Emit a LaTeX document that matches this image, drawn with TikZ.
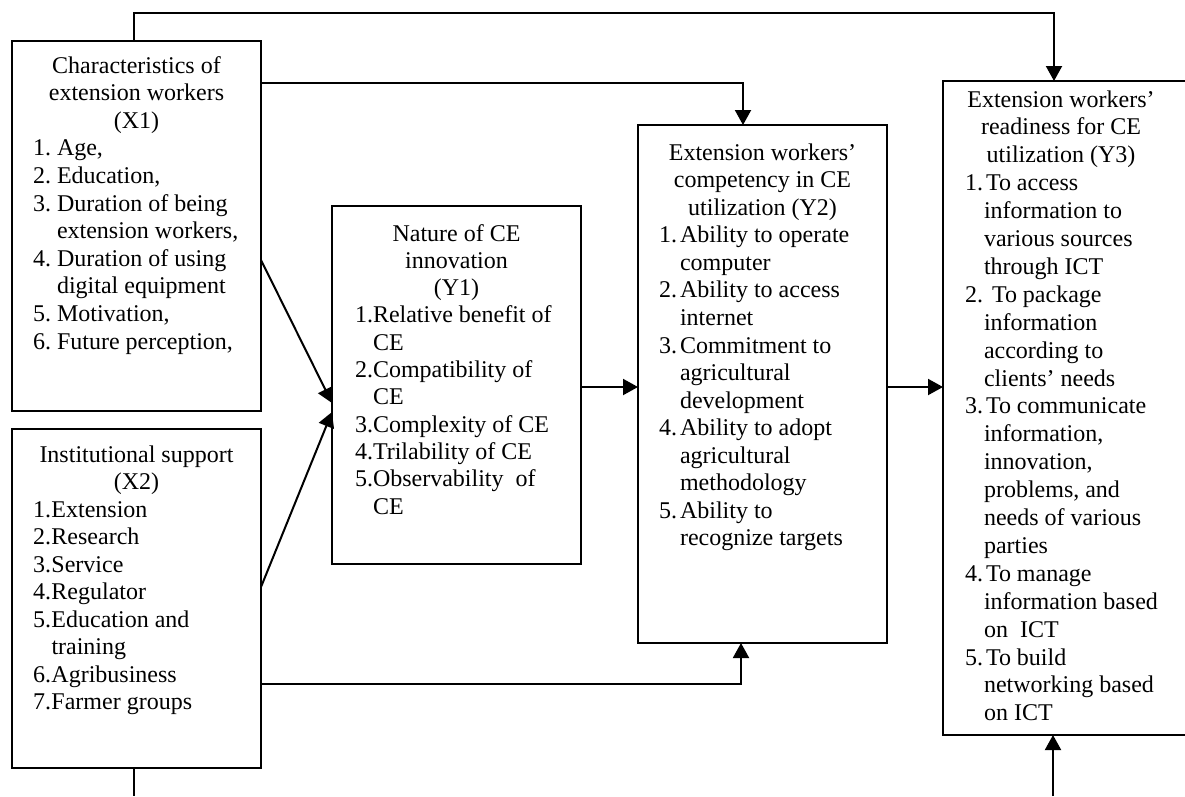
\documentclass[tikz,border=0pt]{standalone}
\usepackage{fontspec}
\setmainfont{Liberation Serif}
\usetikzlibrary{arrows.meta,calc}
\newcommand{\ct}[2]{\makebox[#1]{#2}}
\newcommand{\li}[3]{\makebox[#1][l]{#2}#3}
\newcommand{\co}[2]{\hspace*{#1}#2}
\newcommand{\fs}[1]{\fontsize{24}{#1}\selectfont}
\newcommand{\st}{\rule{0pt}{20pt}}
\begin{document}
\begin{tikzpicture}[x=1pt,y=-1pt,
  box/.style={draw,line width=2.2pt,rectangle,inner sep=0pt,outer sep=0pt},
  txt/.style={anchor=north west,inner sep=0pt,outer sep=0pt,align=left},
  con/.style={line width=2pt},
  arr/.style={con,-{Triangle[length=15pt,width=16pt]}}]
\useasboundingbox (0,0) rectangle (1185,796);
\clip (0,0) rectangle (1185,796);

% boxes
\node[box,minimum width=249pt,minimum height=370pt] (x1) at (136.5,226) {};
\node[box,minimum width=249pt,minimum height=339pt] (x2) at (136.5,598.5) {};
\node[box,minimum width=249pt,minimum height=358pt] (y1) at (456.5,385) {};
\node[box,minimum width=249pt,minimum height=518pt] (y2) at (762.5,384) {};
\node[box,minimum width=257pt,minimum height=654pt] (y3) at (1071.5,408) {};

% texts
\node[txt,font=\fs{27.6}] (x1t) at ($(x1.north west)+(21,12)$) {%
\ct{207pt}{\st Characteristics of}\\
\ct{207pt}{extension workers}\\
\ct{207pt}{(X1)}\\
\li{24pt}{1.}{Age,}\\
\li{24pt}{2.}{Education,}\\
\li{24pt}{3.}{Duration of being}\\
\co{24pt}{extension workers,}\\
\li{24pt}{4.}{Duration of using}\\
\co{24pt}{digital equipment}\\
\li{24pt}{5.}{Motivation,}\\
\li{24pt}{6.}{Future perception,}};

\node[txt,font=\fs{27.5}] (x2t) at ($(x2.north west)+(21,13)$) {%
\ct{207pt}{\st Institutional support}\\
\ct{207pt}{(X2)}\\
\li{18.5pt}{1.}{Extension}\\
\li{18.5pt}{2.}{Research}\\
\li{18.5pt}{3.}{Service}\\
\li{18.5pt}{4.}{Regulator}\\
\li{18.5pt}{5.}{Education and}\\
\co{18.5pt}{training}\\
\li{18.5pt}{6.}{Agribusiness}\\
\li{18.5pt}{7.}{Farmer groups}};

\node[txt,font=\fs{27.3}] (y1t) at ($(y1.north west)+(23,15)$) {%
\ct{203pt}{\st Nature of CE}\\
\ct{203pt}{innovation}\\
\ct{203pt}{(Y1)}\\
\li{18pt}{1.}{Relative benefit of}\\
\co{18pt}{CE}\\
\li{18pt}{2.}{Compatibility of}\\
\co{18pt}{CE}\\
\li{18pt}{3.}{Complexity of CE}\\
\li{18pt}{4.}{Trilability of CE}\\
\li{18pt}{5.}{Observability\ \ of}\\
\co{18pt}{CE}};

\node[txt,font=\fs{27.57}] (y2t) at ($(y2.north west)+(21,15)$) {%
\ct{207pt}{\st Extension workers'}\\
\ct{207pt}{competency in CE}\\
\ct{207pt}{utilization (Y2)}\\
\li{21pt}{1.}{Ability to operate}\\
\co{21pt}{computer}\\
\li{21pt}{2.}{Ability to access}\\
\co{21pt}{internet}\\
\li{21pt}{3.}{Commitment to}\\
\co{21pt}{agricultural}\\
\co{21pt}{development}\\
\li{21pt}{4.}{Ability to adopt}\\
\co{21pt}{agricultural}\\
\co{21pt}{methodology}\\
\li{21pt}{5.}{Ability to}\\
\co{21pt}{recognize targets}};

\node[txt,font=\fs{27.9}] (y3t) at ($(y3.north west)+(22,6)$) {%
\ct{192pt}{\st Extension workers'}\\
\ct{192pt}{readiness for CE}\\
\ct{192pt}{utilization (Y3)}\\
\li{21pt}{1.}{To access}\\
\co{19pt}{information to}\\
\co{19pt}{various sources}\\
\co{19pt}{through ICT}\\
\li{21pt}{2.}{ To package}\\
\co{19pt}{information}\\
\co{19pt}{according to}\\
\co{19pt}{clients' needs}\\
\li{21pt}{3.}{To communicate}\\
\co{19pt}{information,}\\
\co{19pt}{innovation,}\\
\co{19pt}{problems, and}\\
\co{19pt}{needs of various}\\
\co{19pt}{parties}\\
\li{21pt}{4.}{To manage}\\
\co{19pt}{information based}\\
\co{19pt}{on\ \ ICT}\\
\li{21pt}{5.}{To build}\\
\co{19pt}{networking based}\\
\co{19pt}{on ICT}};

% helper coordinates
\coordinate (t1) at (134,13);
\coordinate (t2) at (1054,13);
\coordinate (t3) at (743,83);
\coordinate (p1) at (0,260);
\coordinate (q1) at (0,403);
\coordinate (p2) at (0,587);
\coordinate (q2) at (0,412);
\coordinate (m) at (0,387);
\coordinate (b) at (741,684);
\coordinate (e1) at (134,796);
\coordinate (e2) at (1053,796);

% connectors
\draw[arr] (x1.north -| t1) -- (t1) -| (y3.north -| t2);
\draw[arr] (x1.east |- t3) -| (y2.north -| t3);
\draw[arr] (x1.east |- p1) -- (y1.west |- q1);
\draw[arr] (x2.east |- p2) -- (y1.west |- q2);
\draw[arr] (y1.east |- m) -- (y2.west |- m);
\draw[arr] (y2.east |- m) -- (y3.west |- m);
\draw[arr] (x2.east |- b) -| (y2.south -| b);
\draw[con] (x2.south -| e1) -- (e1);
\draw[arr] (e2) -- (y3.south -| e2);
\end{tikzpicture}
\end{document}
